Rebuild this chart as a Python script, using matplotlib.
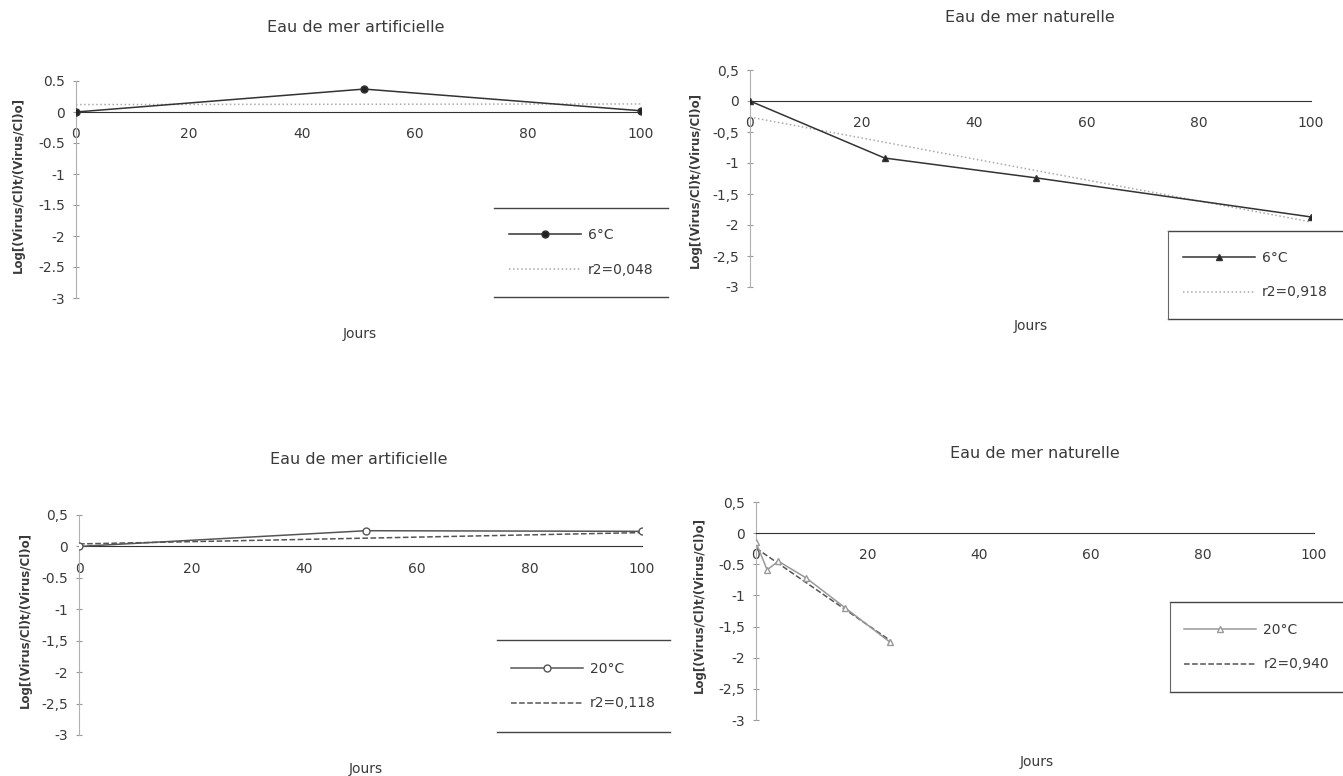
import matplotlib.pyplot as plt
from matplotlib.lines import Line2D

# survie du virus dans l'eau de mer (log des rapports)
jours_art_6 = [0, 51, 100]
log_art_6 = [0, 0.37, 0.02]
tend_art_6_x = [0, 100]
tend_art_6_y = [0.12, 0.13]

jours_nat_6 = [0, 24, 51, 100]
log_nat_6 = [0, -0.92, -1.24, -1.87]
tend_nat_6_x = [0, 100]
tend_nat_6_y = [-0.26, -1.95]

jours_art_20 = [0, 51, 100]
log_art_20 = [0, 0.25, 0.24]
tend_art_20_x = [0, 100]
tend_art_20_y = [0.04, 0.22]

jours_nat_20 = [0, 2, 4, 9, 16, 24]
log_nat_20 = [-0.15, -0.59, -0.45, -0.72, -1.2, -1.75]
tend_nat_20_x = [0, 24]
tend_nat_20_y = [-0.24, -1.72]

x_ticks = [0, 20, 40, 60, 80, 100]
y_ticks = [-3, -2.5, -2, -1.5, -1, -0.5, 0, 0.5]
y_lab_art_6 = ['-3', '-2.5', '-2', '-1.5', '-1', '-0.5', '0', '0.5']
y_lab_nat_6 = ['-3', '-2,5', '-2', '-1,5', '-1', '-0,5', '0', '0,5']
y_lab_art_20 = ['-3', '-2,5', '-2', '-1,5', '-1', '-0.5', '0', '0,5']
y_lab_nat_20 = ['-3', '-2,5', '-2', '-1,5', '-1', '-0.5', '0', '0,5']

W, H = 1343, 776
txt_col = '#3a3a3a'
ylabel = 'Log[(Virus/Cl)t/(Virus/Cl)o]'

fig = plt.figure(figsize=(W / 100, H / 100), dpi=100)


def px(x, y):
    # pixel (from top left) -> figure fraction
    return x / W, 1 - y / H


def draw_panel(rect, jours, vals, tx, ty, ylabs, marker, mface, trend_ls, trend_col,
               line_col, lab, r2lab, title, title_xy, jours_xy, ylab_xy, leg_box, leg_left):
    x0, x1, ytop, ybot = rect
    l, b = px(x0, ybot)
    ax = fig.add_axes([l, b, (x1 - x0) / W, (ybot - ytop) / H])
    ax.plot(jours, vals, color=line_col, lw=1.1, marker=marker, ms=5,
            mfc=mface, mec=line_col, mew=1.0, label=lab, zorder=3)
    ax.plot(tx, ty, color=trend_col, lw=1.1, ls=trend_ls, label=r2lab, zorder=2)
    ax.set_xlim(0, 100)
    ax.set_ylim(-3, 0.5)
    ax.spines['top'].set_visible(False)
    ax.spines['right'].set_visible(False)
    ax.spines['bottom'].set_position(('data', 0))
    ax.spines['bottom'].set_color('#333333')
    ax.spines['left'].set_color('#b0b0b0')
    ax.spines['left'].set_linewidth(0.8)
    ax.set_xticks(x_ticks)
    ax.set_xticklabels([str(t) for t in x_ticks])
    ax.set_yticks(y_ticks)
    ax.set_yticklabels(ylabs)
    ax.tick_params(axis='x', length=0, pad=11, labelsize=10, labelcolor=txt_col)
    ax.tick_params(axis='y', length=4, direction='inout', color='#999999',
                   pad=6, labelsize=10, labelcolor=txt_col)
    ax.patch.set_alpha(0)

    fig.text(*px(*title_xy), title, ha='center', va='center', fontsize=11.5, color=txt_col)
    fig.text(*px(*jours_xy), 'Jours', ha='center', va='center', fontsize=10, color=txt_col)
    fig.text(*px(*ylab_xy), ylabel, ha='center', va='center', rotation=90,
             fontsize=8.5, color=txt_col, fontweight='bold')

    # cadre de la legende
    bx0, by0, bx1, by1 = leg_box
    for yy in (by0, by1):
        fig.add_artist(Line2D([bx0 / W, bx1 / W], [1 - yy / H, 1 - yy / H],
                              color='#444444', lw=1.0))
    if leg_left:
        fig.add_artist(Line2D([bx0 / W, bx0 / W], [1 - by0 / H, 1 - by1 / H],
                              color='#666666', lw=0.8))
    cx, cy = px((bx0 + bx1) / 2, (by0 + by1) / 2)
    leg = ax.legend(loc='center', bbox_to_anchor=(cx, cy), bbox_transform=fig.transFigure,
                    frameon=False, fontsize=10, handlelength=5.2, labelspacing=1.5,
                    handletextpad=0.5)
    for t in leg.get_texts():
        t.set_color(txt_col)
    return ax


draw_panel((76, 641, 81, 298), jours_art_6, log_art_6, tend_art_6_x, tend_art_6_y,
           y_lab_art_6, 'o', '#222222', ':', '#aaaaaa', '#333333', '6°C', 'r2=0,048',
           'Eau de mer artificielle', (356, 27), (360, 334), (18, 185),
           (494, 208, 668, 297), False)

draw_panel((750, 1311, 70, 287), jours_nat_6, log_nat_6, tend_nat_6_x, tend_nat_6_y,
           y_lab_nat_6, '^', '#222222', ':', '#aaaaaa', '#333333', '6°C', 'r2=0,918',
           'Eau de mer naturelle', (1030, 18), (1031, 326), (695, 180),
           (1168, 231, 1343, 319), True)

draw_panel((79, 642, 515, 735), jours_art_20, log_art_20, tend_art_20_x, tend_art_20_y,
           y_lab_art_20, 'o', 'white', '--', '#555555', '#555555', '20°C', 'r2=0,118',
           'Eau de mer artificielle', (359, 459), (366, 769), (25, 620),
           (497, 640, 670, 732), False)

draw_panel((756, 1314, 502, 720), jours_nat_20, log_nat_20, tend_nat_20_x, tend_nat_20_y,
           y_lab_nat_20, '^', 'white', '--', '#555555', '#999999', '20°C', 'r2=0,940',
           'Eau de mer naturelle', (1035, 453), (1037, 762), (699, 605),
           (1170, 602, 1343, 692), True)

fig.savefig('out.png', dpi=100, facecolor='white')
